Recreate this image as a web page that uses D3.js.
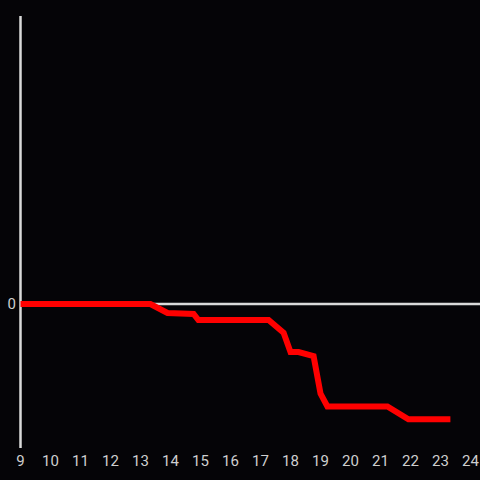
<!DOCTYPE html>
<html>
<head>
<meta charset="utf-8">
<script src="https://cdn.jsdelivr.net/npm/d3@7"></script>
<style>
  html, body { margin: 0; padding: 0; background: #050407; }
  svg { display: block; }
</style>
</head>
<body>
<svg width="480" height="480"></svg>
<script>
// Data
var hours = [9, 13.33, 13.9, 14.77, 14.93, 17.27, 17.77, 18, 18.27, 18.77, 19, 19.23, 21.23, 21.93, 23.33];
var values = [0, 0, -0.28, -0.31, -0.5, -0.5, -0.9, -1.5, -1.5, -1.63, -2.8, -3.2, -3.2, -3.6, -3.6];
var xTicks = [9, 10, 11, 12, 13, 14, 15, 16, 17, 18, 19, 20, 21, 22, 23, 24];
var yTicks = [0];

var svg = d3.select("svg"),
  width = +svg.attr("width"),
  height = +svg.attr("height");

svg.append("rect")
  .attr("width", width)
  .attr("height", height)
  .attr("fill", "#050407");

// Scales
var x = d3.scaleLinear().domain([9, 24]).range([20.5, 470.5]);
var y = d3.scaleLinear().domain([-4.5, 9]).range([448, 16]);

// Y axis line
svg.append("line")
  .attr("x1", x(9)).attr("x2", x(9))
  .attr("y1", y(9)).attr("y2", y(-4.5))
  .attr("stroke", "#dadada")
  .attr("stroke-width", 2.5);

// Zero line
svg.append("line")
  .attr("x1", x(9)).attr("x2", width)
  .attr("y1", y(0)).attr("y2", y(0))
  .attr("stroke", "#dadada")
  .attr("stroke-width", 2.5);

// Y tick labels
svg.selectAll(".ylab")
  .data(yTicks)
  .enter()
  .append("text")
  .attr("class", "ylab")
  .attr("x", 16)
  .attr("y", function (d) { return y(d); })
  .attr("dy", "0.36em")
  .attr("text-anchor", "end")
  .attr("fill", "#cfcfcf")
  .style("font", "15px Roboto, sans-serif")
  .text(function (d) { return d; });

// X tick labels
svg.selectAll(".xlab")
  .data(xTicks)
  .enter()
  .append("text")
  .attr("class", "xlab")
  .attr("x", function (d) { return x(d); })
  .attr("y", 461)
  .attr("dy", "0.36em")
  .attr("text-anchor", "middle")
  .attr("fill", "#cfcfcf")
  .style("font", "15px Roboto, sans-serif")
  .text(function (d) { return d; });

// The line
var line = d3.line()
  .x(function (d, i) { return x(hours[i]); })
  .y(function (d) { return y(d); });

svg.append("path")
  .datum(values)
  .attr("fill", "none")
  .attr("stroke", "#ff0000")
  .attr("stroke-width", 6)
  .attr("d", line);
</script>
</body>
</html>
